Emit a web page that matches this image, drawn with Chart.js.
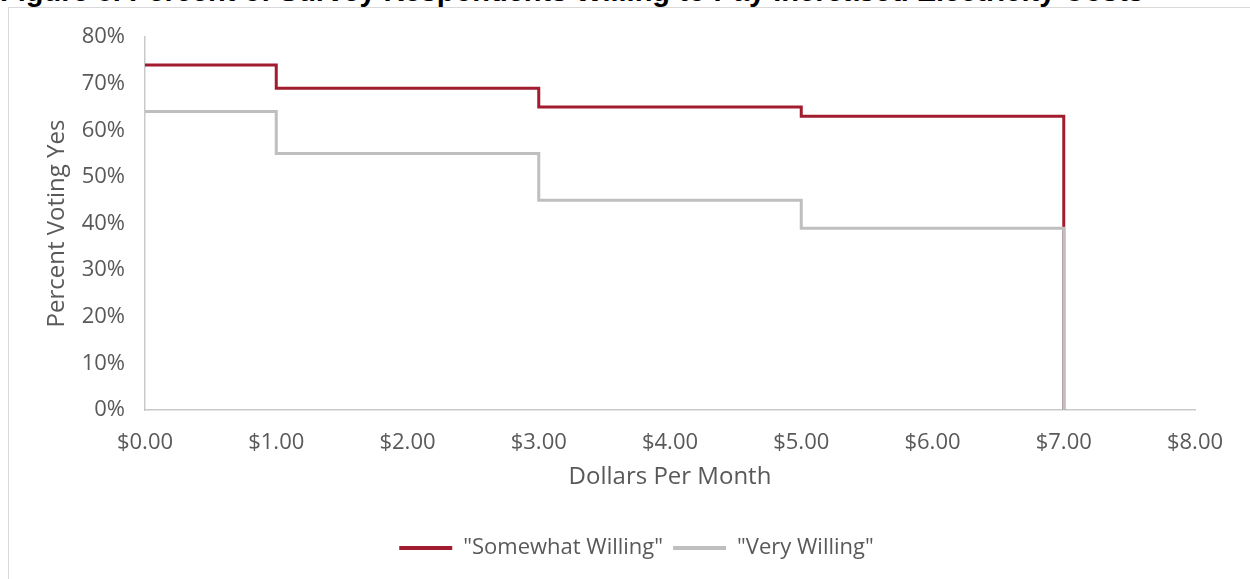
<!DOCTYPE html>
<html>
<head>
<meta charset="utf-8">
<script src="https://cdn.jsdelivr.net/npm/chart.js@4"></script>
<style>
  body { margin: 0; width: 1250px; height: 579px; overflow: hidden; background: #fff; position: relative; }
  #title { position: absolute; left: 0; top: -23px; font: bold 29px/29px "Liberation Sans", Arial, sans-serif; color: #000; white-space: nowrap; }
  #frame { position: absolute; left: 8px; top: 7px; width: 1300px; height: 640px; border: 1px solid #d9d9d9; background: #fff; }
  #wrap { position: absolute; left: 0; top: 0; width: 1250px; height: 579px; }
</style>
</head>
<body>
<div id="title">Figure 5. Percent of Survey Respondents Willing to Pay Increased Electricity Costs</div>
<div id="frame"></div>
<div id="wrap"><canvas id="stepChart"></canvas></div>
<script>
// dollars per month where each step starts
const dollars = [0, 1, 3, 5, 7];
const somewhatWilling = [74, 69, 65, 63, 0];
const veryWilling = [64, 55, 45, 39, 0];
const xTicks = [0, 1, 2, 3, 4, 5, 6, 7, 8];
const yTicks = [0, 10, 20, 30, 40, 50, 60, 70, 80];

const red = '#a11c2e';
const gray = '#bfbfbf';
const txt = '#595959';
const fam = '"Open Sans", "Liberation Sans", sans-serif';

function toPoints(vals) {
  return dollars.map((d, i) => ({ x: d, y: vals[i] }));
}

const ctx = document.getElementById('stepChart').getContext('2d');
new Chart(ctx, {
  type: 'line',
  data: {
    datasets: [
      {
        label: '"Very Willing"',
        data: toPoints(veryWilling),
        borderColor: gray,
        backgroundColor: gray,
        borderWidth: 3,
        stepped: 'before',
        pointRadius: 0,
        fill: false
      },
      {
        label: '"Somewhat Willing"',
        data: toPoints(somewhatWilling),
        borderColor: red,
        backgroundColor: red,
        borderWidth: 3,
        stepped: 'before',
        pointRadius: 0,
        fill: false
      }
    ]
  },
  options: {
    responsive: true,
    maintainAspectRatio: false,
    animation: false,
    // left padding only pushes the legend centre over; y axis width makes up the rest
    layout: { padding: { top: 37, right: 55, bottom: 10, left: 78 } },
    scales: {
      x: {
        type: 'linear',
        min: xTicks[0],
        max: xTicks[xTicks.length - 1],
        afterBuildTicks: s => { s.ticks = xTicks.map(v => ({ value: v })); },
        afterFit: s => { s.height = 117; },
        grid: { display: false, drawTicks: false },
        border: { display: true, color: '#c9c9c9', width: 1.5 },
        ticks: {
          padding: 20,
          color: txt,
          font: { family: fam, size: 22 },
          maxRotation: 0,
          callback: v => '$' + Number(v).toFixed(2)
        },
        title: {
          display: true,
          text: 'Dollars Per Month',
          color: txt,
          font: { family: fam, size: 24 },
          padding: { top: 0, bottom: 35 }
        }
      },
      y: {
        min: yTicks[0],
        max: yTicks[yTicks.length - 1],
        afterBuildTicks: s => { s.ticks = yTicks.map(v => ({ value: v })); },
        afterFit: s => { s.width = 67; },
        grid: { display: false, drawTicks: false },
        border: { display: true, color: '#c9c9c9', width: 1.5 },
        ticks: {
          padding: 20,
          color: txt,
          font: { family: fam, size: 22 },
          callback: v => v + '%'
        },
        title: {
          display: true,
          text: 'Percent Voting Yes',
          color: txt,
          font: { family: fam, size: 24 },
          padding: { top: -35, bottom: 0 }
        }
      }
    },
    plugins: {
      legend: {
        position: 'bottom',
        reverse: true,
        labels: {
          color: txt,
          font: { family: fam, size: 22 },
          boxWidth: 53,
          boxHeight: 4,
          padding: 10,
          generateLabels: chart => {
            const items = Chart.defaults.plugins.legend.labels.generateLabels(chart);
            return items.map(it => { it.lineWidth = 0; it.fillStyle = it.strokeStyle; return it; });
          }
        }
      },
      tooltip: { enabled: false }
    }
  }
});
</script>
</body>
</html>
